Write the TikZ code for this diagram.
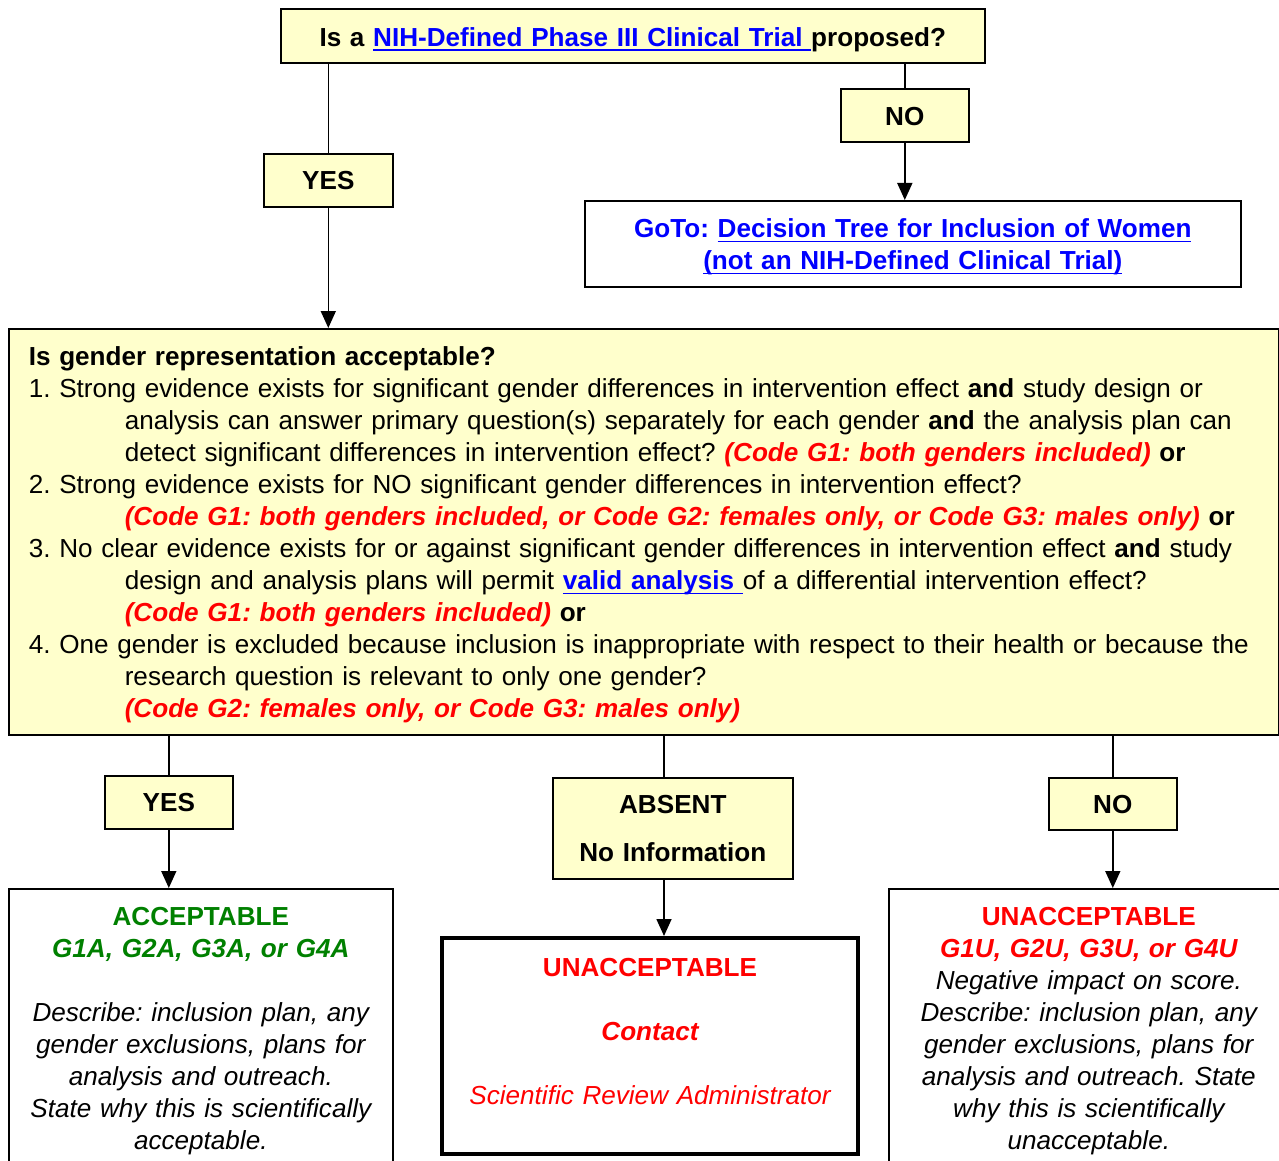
\documentclass[tikz,border=0pt]{standalone}
\usepackage{fontspec}
\setmainfont{Liberation Sans}
\usetikzlibrary{arrows.meta}
\definecolor{boxyellow}{HTML}{FFFFCC}
\definecolor{linkblue}{HTML}{0000FF}
\definecolor{codered}{HTML}{FF0000}
\definecolor{okgreen}{HTML}{008000}
\newcommand{\treefont}{\fontsize{26.1}{32}\selectfont\frenchspacing}
\newcommand{\code}[1]{{\color{codered}\bfseries\itshape #1}}
\newcommand{\link}[1]{\leavevmode{\color{linkblue}\setbox0\hbox{#1}\rlap{\rule[-4.5pt]{\wd0}{1.8pt}}\box0}}
\newcommand{\contind}{\hspace*{96pt}}
\tikzset{
    x=1pt, y=-1pt, % pixel units, y grows downwards
    >={Triangle[width=15pt,length=17pt]}, % filled arrow heads
    box/.style={draw, inner sep=0pt, anchor=north west, align=center, font=\treefont}, % plain white box
    ybox/.style={box, fill=boxyellow}, % yellow question/answer box
}
\begin{document}
\begin{tikzpicture}[line width=1.6pt]
    \clip (0,0) rectangle (1279,1161);

    % first question
    \node[ybox, text width=704pt, text height=37.5pt, text depth=16.5pt] (trial) at (280,8)
        {\bfseries Is a \link{NIH-Defined Phase III Clinical Trial\ }proposed?};
    \node[ybox, text width=129pt, text height=36pt, text depth=17pt] (yesA) at (263,153) {\bfseries YES};
    \node[ybox, text width=128pt, text height=37pt, text depth=16pt] (noA) at (840,88) {\bfseries NO};
    \node[box, text width=656pt, text height=37pt, text depth=49pt, text=linkblue, font=\treefont\bfseries] (goto) at (584,200)
        {GoTo: \link{Decision Tree for Inclusion of Women}\\ \link{(not an NIH-Defined Clinical Trial)}};

    % second question
    \node[ybox, text width=1230pt, inner xsep=20pt, align=left, text height=37pt, text depth=369pt] (gender) at (8,328) {%
        \textbf{Is gender representation acceptable?}\\
        1. Strong evidence exists for significant gender differences in intervention effect \textbf{and} study design or\\
        \contind analysis can answer primary question(s) separately for each gender \textbf{and} the analysis plan can\\
        \contind detect significant differences in intervention effect? \code{(Code G1: both genders included)} \textbf{or}\\
        2. Strong evidence exists for NO significant gender differences in intervention effect?\\
        \contind\code{(Code G1: both genders included, or Code G2: females only, or Code G3: males only)} \textbf{or}\\
        3. No clear evidence exists for or against significant gender differences in intervention effect \textbf{and} study\\
        \contind design and analysis plans will permit \textbf{\link{valid analysis\ }}of a differential intervention effect?\\
        \contind\code{(Code G1: both genders included)} \textbf{or}\\
        4. One gender is excluded because inclusion is inappropriate with respect to their health or because the\\
        \contind research question is relevant to only one gender?\\
        \contind\code{(Code G2: females only, or Code G3: males only)}};

    % answers
    \node[ybox, text width=128pt, text height=36pt, text depth=17pt] (yesB) at (104,775) {\bfseries YES};
    \node[ybox, text width=240pt, text height=36pt, text depth=65pt] (absent) at (552,777)
        {\bfseries ABSENT\\[16pt] No Information};
    \node[ybox, text width=128pt, text height=36pt, text depth=16pt] (noB) at (1048,777) {\bfseries NO};
    \coordinate (absx) at (664,760);

    % outcomes
    \node[box, text width=384pt, text height=37pt, text depth=300pt] (accept) at (8,888)
        {{\color{okgreen}\bfseries ACCEPTABLE}\\
        {\color{okgreen}\bfseries\itshape G1A, G2A, G3A, or G4A}\\[32pt]
        \itshape Describe: inclusion plan, any\\ gender exclusions, plans for\\ analysis and outreach.\\
        State why this is scientifically\\ acceptable.};
    \node[box, line width=4pt, text width=416pt, text height=38pt, text depth=178pt, text=codered] (contact) at (440,936)
        {{\bfseries UNACCEPTABLE}\\[32pt] {\bfseries\itshape Contact}\\[32pt] {\itshape Scientific Review Administrator}};
    \node[box, text width=400pt, text height=37pt, text depth=300pt] (reject) at (888,888)
        {{\color{codered}\bfseries UNACCEPTABLE}\\
        {\color{codered}\bfseries\itshape G1U, G2U, G3U, or G4U}\\
        \itshape Negative impact on score.\\ Describe: inclusion plan, any\\ gender exclusions, plans for\\
        analysis and outreach. State\\ why this is scientifically\\ unacceptable.};

    % connectors
    \draw (trial.south -| yesA.north) -- (yesA.north);
    \draw[->] (yesA.south) -- (gender.north -| yesA.south);
    \draw (trial.south -| noA.north) -- (noA.north);
    \draw[->] (noA.south) -- (goto.north -| noA.south);
    \draw (gender.south -| yesB.north) -- (yesB.north);
    \draw[->] (yesB.south) -- (accept.north -| yesB.south);
    \draw (gender.south -| absx) -- (absent.north -| absx);
    \draw[->] (absent.south -| absx) -- (contact.north -| absx);
    \draw (gender.south -| noB.north) -- (noB.north);
    \draw[->] (noB.south) -- (reject.north -| noB.south);
\end{tikzpicture}
\end{document}
